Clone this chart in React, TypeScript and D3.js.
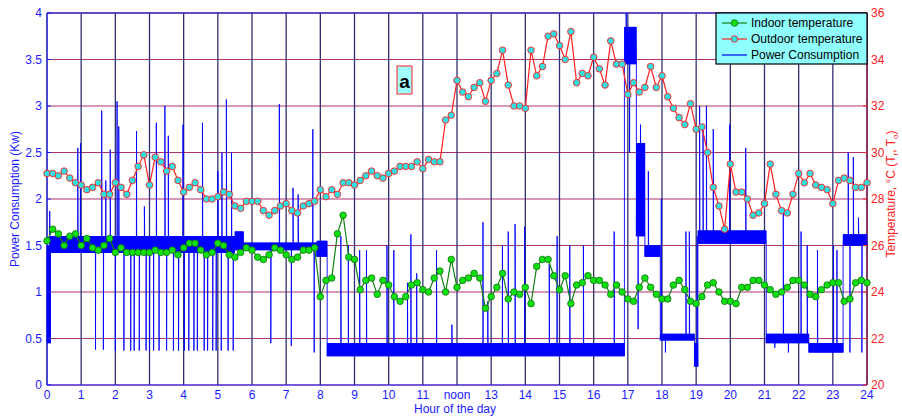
import * as d3 from 'd3';

// outdoor temperature (°C), every 10 minutes from 0:00 to 24:00
const outdoorTemp = [
  29.1, 29.1, 29.0, 29.2, 28.9, 28.7, 28.6, 28.4, 28.5, 28.7, 28.2, 28.2,
  28.7, 28.5, 28.2, 28.8, 29.4, 29.9, 28.6, 29.8, 29.6, 29.2, 29.4, 28.8,
  28.3, 28.5, 28.7, 28.4, 28.0, 28.0, 28.1, 28.3, 28.2, 27.7, 27.6, 27.9,
  27.9, 27.9, 27.5, 27.3, 27.5, 27.7, 27.8, 27.5, 27.4, 27.7, 27.8, 27.9,
  28.4, 28.1, 28.4, 28.2, 28.7, 28.7, 28.6, 28.8, 29.0, 29.2, 29.0, 28.9,
  29.1, 29.2, 29.4, 29.4, 29.4, 29.6, 29.3, 29.7, 29.6, 29.6, 31.4, 31.6,
  33.1, 32.6, 32.4, 32.8, 33.0, 32.2, 33.1, 33.4, 34.4, 32.9, 32.0, 32.0,
  31.9, 34.4, 33.3, 33.7, 35.0, 35.1, 34.6, 34.0, 35.2, 33.0, 33.4, 33.3,
  34.1, 33.6, 32.9, 34.8, 33.8, 33.8, 32.5, 33.0, 32.6, 32.8, 33.7, 32.8,
  33.3, 32.4, 31.9, 31.5, 31.2, 32.1, 31.0, 31.1, 30.0, 28.5, 27.7, 26.7,
  29.5, 28.3, 28.3, 28.0, 27.3, 27.4, 27.8, 29.5, 28.2, 27.5, 27.4, 28.2,
  29.1, 28.7, 29.1, 28.6, 28.5, 28.4, 27.8, 28.8, 28.9, 28.8, 28.5, 28.5,
  28.7,
];

// indoor temperature (°C), every 10 minutes
const indoorTemp = [
  26.2, 26.7, 26.5, 26.0, 26.4, 26.5, 26.0, 26.3, 25.9, 25.8, 26.0, 26.3,
  25.7, 25.9, 25.7, 25.7, 25.7, 25.7, 25.7, 25.8, 25.7, 25.7, 25.8, 25.6,
  25.9, 26.1, 26.1, 25.8, 25.6, 25.7, 26.1, 26.0, 25.6, 25.5, 25.7, 25.9,
  25.8, 25.5, 25.4, 25.6, 25.9, 25.8, 25.6, 25.4, 25.5, 25.8, 25.8, 25.9,
  23.8, 24.5, 24.6, 26.5, 27.3, 25.5, 25.4, 24.1, 24.5, 24.6, 23.9, 24.5,
  24.3, 23.8, 23.6, 23.8, 24.3, 24.4, 24.1, 24.0, 24.6, 24.9, 24.0, 25.4,
  24.2, 24.5, 24.6, 24.8, 24.6, 23.3, 23.8, 24.2, 24.8, 23.7, 24.0, 23.9,
  24.2, 23.5, 25.1, 25.4, 25.4, 24.7, 24.1, 24.7, 23.5, 24.3, 24.4, 24.7,
  24.5, 24.5, 24.3, 23.9, 24.3, 24.0, 23.7, 23.6, 24.2, 24.6, 24.2, 23.9,
  23.7, 23.7, 24.3, 24.5, 24.1, 23.6, 23.5, 23.8, 24.3, 24.4, 24.0, 23.6,
  23.6, 23.5, 24.2, 24.2, 24.5, 24.5, 24.3, 24.1, 23.9, 24.0, 24.2, 24.5,
  24.5, 24.3, 23.9, 23.8, 24.1, 24.3, 24.4, 24.4, 23.6, 23.7, 24.4, 24.5,
  24.4,
];

// power consumption base levels: [start hour, end hour, low kW, high kW]
const powerBands: [number, number, number, number][] = [
  [0.0, 0.1, 0.45, 1.5],
  [0.1, 5.5, 1.42, 1.6],
  [5.5, 5.75, 1.45, 1.65],
  [5.75, 7.9, 1.45, 1.53],
  [7.9, 8.2, 1.38, 1.55],
  [8.2, 16.9, 0.31, 0.45],
  [16.9, 17.25, 3.45, 3.85],
  [17.25, 17.5, 1.6, 2.6],
  [17.5, 17.95, 1.38, 1.5],
  [17.95, 18.95, 0.48, 0.55],
  [18.95, 19.05, 0.2, 0.45],
  [19.05, 21.05, 1.52, 1.66],
  [21.05, 22.3, 0.45, 0.55],
  [22.3, 23.3, 0.35, 0.45],
  [23.3, 24.0, 1.5, 1.62],
];

// short excursions from the base level: [hour, kW]
const powerSpikes: [number, number][] = [
  [0.08, 1.87], [0.9, 2.55], [0.98, 2.6], [1.42, 0.38], [1.6, 2.95], [1.65, 0.38], [1.72, 2.2],
  [1.85, 2.53], [2.0, 0.37], [2.05, 3.05], [2.1, 2.78], [2.25, 0.37], [2.45, 0.37], [2.55, 0.37],
  [2.62, 2.73], [2.7, 0.37], [2.85, 1.92], [2.9, 0.37], [3.0, 0.37], [3.12, 0.37], [3.2, 2.82],
  [3.28, 0.37], [3.45, 3.0], [3.5, 0.37], [3.55, 2.68], [3.7, 0.37], [3.85, 0.37], [3.98, 2.8],
  [4.02, 0.37], [4.15, 0.37], [4.3, 0.37], [4.4, 0.37], [4.55, 2.82], [4.6, 0.37], [4.7, 0.37],
  [4.85, 0.37], [4.95, 0.37], [5.0, 2.3], [5.1, 0.37], [5.12, 2.5], [5.25, 3.07], [5.3, 0.37],
  [5.4, 2.5], [5.45, 0.37], [6.55, 0.45], [6.8, 3.02], [7.15, 0.42], [7.2, 2.12], [7.35, 2.05],
  [7.78, 2.75], [7.82, 0.35], [8.6, 1.6], [8.82, 1.5], [9.15, 1.45], [9.35, 1.45], [9.95, 1.5],
  [10.15, 1.45], [10.55, 1.1], [10.65, 1.62], [10.82, 1.2], [11.4, 1.45], [11.85, 0.65],
  [12.76, 1.75], [12.9, 0.9], [13.33, 1.5], [13.5, 1.65], [13.7, 1.73], [13.98, 1.7], [14.7, 1.3],
  [14.93, 1.6], [15.3, 1.5], [15.7, 1.5], [16.6, 1.65], [16.95, 4.0], [17.05, 2.5], [17.3, 0.6],
  [17.37, 2.8], [17.6, 2.3], [17.98, 2.0], [18.1, 0.35], [18.7, 1.65], [18.8, 1.65], [19.03, 1.6],
  [19.1, 3.0], [19.2, 2.8], [19.3, 3.0], [19.5, 2.75], [19.98, 2.8], [20.45, 2.55], [21.3, 0.4],
  [21.55, 1.9], [21.7, 0.35], [22.07, 1.65], [22.25, 1.5], [22.55, 1.45], [23.02, 1.5],
  [23.12, 1.45], [23.45, 2.5], [23.5, 0.35], [23.6, 2.45], [23.75, 1.8], [23.85, 0.35],
];

const hours = d3.range(0, 25);

const W = 902, H = 419;
const M = { left: 47, right: 867, top: 13, bottom: 385 };

export default function App() {
  const x = d3.scaleLinear().domain([0, 24]).range([M.left, M.right]);
  const yP = d3.scaleLinear().domain([0, 4]).range([M.bottom, M.top]);
  const yT = d3.scaleLinear().domain([20, 36]).range([M.bottom, M.top]);

  // assemble power trace: zigzag between band limits, plus excursions
  const pts: [number, number][] = [];
  powerBands.forEach(([s, e, lo, hi]) => {
    let k = 0;
    for (let t = s; t < e; t += 1 / 120, k++) pts.push([t, k % 2 ? hi : lo]);
  });
  powerSpikes.forEach(([t, v]) => pts.push([t + 0.0001, v], [t + 0.0002, v]));
  pts.sort((a, b) => a[0] - b[0]);
  const powerLine = d3.line<[number, number]>().x(d => x(d[0])).y(d => yP(d[1]))(pts) || '';

  const tTimes = d3.range(0, 145).map(i => i / 6);
  const tLine = (arr: number[]) =>
    d3.line<number>().x((_, i) => x(tTimes[i])).y(d => yT(d))(arr) || '';

  const font = 'Liberation Sans, Arial, sans-serif';
  const blue = '#1a1aff';
  const red = '#ff2020';

  return (
    <svg width={W} height={H} style={{ position: 'absolute', left: 0, top: 0, background: '#fff' }} fontFamily={font}>
      {/* horizontal grid */}
      {yP.ticks(8).map(v => (
        <line key={'h' + v} x1={M.left} x2={M.right} y1={yP(v)} y2={yP(v)} stroke="#b03070" strokeWidth={1} />
      ))}
      {/* vertical grid */}
      {hours.map(h => (
        <line key={'v' + h} x1={x(h)} x2={x(h)} y1={M.top} y2={M.bottom} stroke="#303070" strokeWidth={1.3} />
      ))}
      <line x1={M.left} x2={M.right} y1={M.top} y2={M.top} stroke="#4030c0" strokeWidth={1.5} />
      <line x1={M.left} x2={M.right} y1={M.bottom} y2={M.bottom} stroke={blue} strokeWidth={1} />
      <line x1={M.left} x2={M.left} y1={M.top} y2={M.bottom} stroke={blue} strokeWidth={1} />
      <line x1={M.right} x2={M.right} y1={M.top} y2={M.bottom} stroke="#902050" strokeWidth={1.5} />

      <path d={powerLine} fill="none" stroke="#0000ff" strokeWidth={0.9} />
      <path d={tLine(indoorTemp)} fill="none" stroke="#108010" strokeWidth={1.2} />
      {indoorTemp.map((v, i) => (
        <circle key={'i' + i} cx={x(tTimes[i])} cy={yT(v)} r={3.3} fill="#10e010" stroke="#107010" strokeWidth={0.8} />
      ))}
      <path d={tLine(outdoorTemp)} fill="none" stroke={red} strokeWidth={1.2} />
      {outdoorTemp.map((v, i) => (
        <circle key={'o' + i} cx={x(tTimes[i])} cy={yT(v)} r={3.3} fill="#30e0e0" stroke={red} strokeWidth={0.9} />
      ))}

      {/* left ticks */}
      {yP.ticks(8).map(v => (
        <g key={'lt' + v}>
          <line x1={M.left} x2={M.left + 4} y1={yP(v)} y2={yP(v)} stroke={blue} />
          <text x={M.left - 5} y={yP(v)} dy="0.35em" textAnchor="end" fontSize={12} fill={blue}>{v}</text>
        </g>
      ))}
      {/* right ticks */}
      {yT.ticks(8).map(v => (
        <g key={'rt' + v}>
          <line x1={M.right - 4} x2={M.right} y1={yT(v)} y2={yT(v)} stroke={red} />
          <text x={M.right + 4} y={yT(v)} dy="0.35em" fontSize={12} fill={red}>{v}</text>
        </g>
      ))}
      {/* bottom ticks */}
      {hours.map(h => (
        <text key={'bt' + h} x={x(h)} y={M.bottom + 14} textAnchor="middle" fontSize={12} fill={blue}>
          {h === 12 ? 'noon' : h}
        </text>
      ))}
      <text x={455} y={413} textAnchor="middle" fontSize={12} fill={blue}>Hour of the day</text>
      <text transform={`translate(19,${(M.top + M.bottom) / 2}) rotate(-90)`} textAnchor="middle" fontSize={12} fill={blue}>
        Power Consumption  (Kw)
      </text>
      <text transform={`translate(895,${(M.top + M.bottom) / 2 - 5}) rotate(-90)`} textAnchor="middle" fontSize={12} fill={red}>
        Temperature, °C (T<tspan fontSize={8} dy={3}>r</tspan><tspan dy={-3}>, T</tspan><tspan fontSize={8} dy={3}>o</tspan><tspan dy={-3}>)</tspan>
      </text>

      {/* panel label */}
      <rect x={397} y={66} width={15} height={28} fill="#a0ffff" stroke={red} strokeWidth={1} />
      <text x={404.5} y={88} textAnchor="middle" fontSize={19} fontWeight="bold" fill="#000">a</text>

      {/* legend */}
      <g transform="translate(716,13)">
        <rect x={0} y={0} width={151} height={51} fill="#90ffff" stroke="#000" strokeWidth={1.2} />
        <line x1={6} x2={31} y1={10} y2={10} stroke="#108010" strokeWidth={1.2} />
        <circle cx={18.5} cy={10} r={3.3} fill="#10e010" stroke="#107010" strokeWidth={0.8} />
        <text x={35} y={10} dy="0.35em" fontSize={12} fill="#000">Indoor temperature</text>
        <line x1={6} x2={31} y1={26} y2={26} stroke={red} strokeWidth={1.2} />
        <circle cx={18.5} cy={26} r={3.3} fill="#30e0e0" stroke={red} strokeWidth={0.9} />
        <text x={35} y={26} dy="0.35em" fontSize={12} fill="#000">Outdoor temperature</text>
        <line x1={6} x2={31} y1={42} y2={42} stroke="#0000ff" strokeWidth={1.2} />
        <text x={35} y={42} dy="0.35em" fontSize={12} fill="#000">Power Consumption</text>
      </g>
    </svg>
  );
}
